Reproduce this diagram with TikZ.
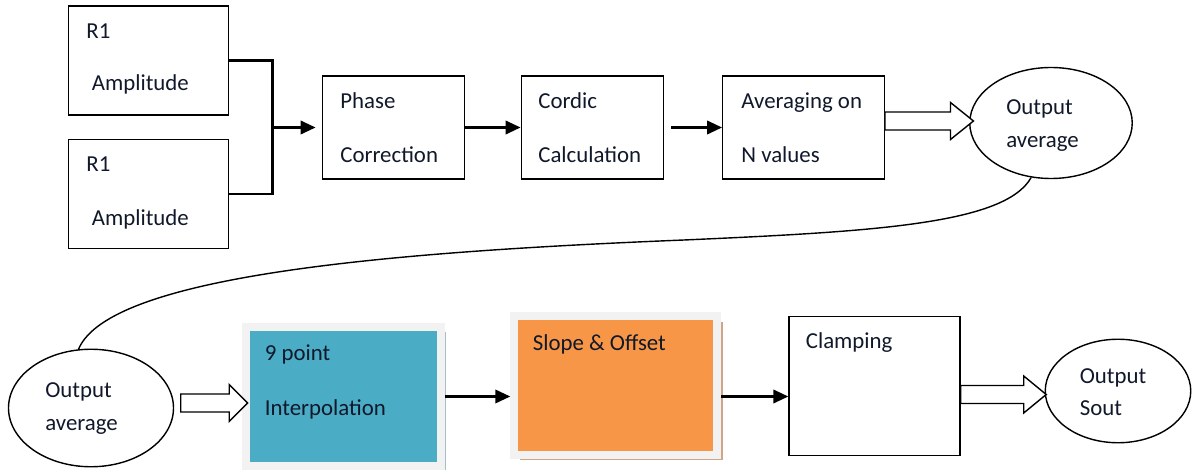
\documentclass[tikz,border=0pt]{standalone}
\usepackage{fontspec}
\setmainfont{Carlito}
\usetikzlibrary{arrows.meta,shapes.geometric,shadows}
\definecolor{interpblue}{HTML}{4BACC6}
\definecolor{slopeorange}{HTML}{F79646}
\definecolor{framegray}{HTML}{F2F2F2}
\definecolor{slopeshade}{HTML}{D2A486}
\definecolor{interpshade}{HTML}{A9BDC6}
\definecolor{inktxt}{HTML}{10182A}
\tikzset{
  blk/.style={draw, line width=0.8pt, minimum height=2.06cm},
  colbox/.style={draw=framegray, line width=0.15cm},
  oval/.style={draw, ellipse, line width=0.8pt},
  txt/.style={anchor=west, inner sep=0pt, text height=0.7em, text depth=0.2em, text=inktxt, font=\fontsize{13}{15}\selectfont},
  arr/.style={line width=1.3pt, -{Triangle[length=3mm,width=2.7mm]}},
  hollow/.style={draw, line width=0.8pt, fill=white},
}
\begin{document}
\begin{tikzpicture}
\useasboundingbox (0,0) rectangle (23.84,9.38);
\pgfmathsetmacro{\hs}{0.18}
\pgfmathsetmacro{\hh}{0.19}
% top row
\node[blk, minimum width=3.21cm, minimum height=2.18cm] (r1a) at (2.97,8.17) {};
\node[blk, minimum width=3.21cm, minimum height=2.17cm] (r1b) at (2.97,5.50) {};
\node[blk, minimum width=2.83cm] (phase) at (7.87,6.83) {};
\node[blk, minimum width=2.85cm] (cordic) at (11.85,6.83) {};
\node[blk, minimum width=3.23cm] (avg) at (16.07,6.83) {};
\node[oval, minimum width=3.25cm, minimum height=2.22cm] (oavg) at (21.02,6.92) {};
\node[txt] (r1at) at (1.72,8.70) {R1};
\node[txt] (r1aa) at (1.83,7.65) {Amplitude};
\node[txt] (r1bt) at (1.72,6.04) {R1};
\node[txt] (r1ba) at (1.83,4.95) {Amplitude};
\node[txt] (phaset) at (6.80,7.30) {Phase};
\node[txt] (phasec) at (6.80,6.21) {Correction};
\node[txt] (cordict) at (10.76,7.30) {Cordic};
\node[txt] (cordicc) at (10.76,6.21) {Calculation};
\node[txt] (avgt) at (14.82,7.30) {Averaging on};
\node[txt] (avgn) at (14.82,6.21) {N values};
\node[txt] (oavgt) at (20.12,7.18) {Output};
\node[txt] (oavga) at (20.12,6.52) {average};
% bottom row
\node[oval, minimum width=3.30cm, minimum height=2.35cm] (oavgb) at (1.82,1.22) {};
\node[colbox, fill=interpblue, minimum width=3.90cm, minimum height=2.78cm,
  drop shadow={shadow xshift=0.1cm, shadow yshift=-0.1cm, fill=interpshade, fill opacity=1}] (interp) at (6.87,1.45) {};
\node[colbox, fill=slopeorange, minimum width=4.06cm, minimum height=2.77cm,
  drop shadow={shadow xshift=0.11cm, shadow yshift=-0.11cm, fill=slopeshade, fill opacity=1}] (slope) at (12.31,1.67) {};
\node[blk, minimum width=3.42cm, minimum height=2.77cm] (clamp) at (17.49,1.66) {};
\node[oval, minimum width=2.91cm, minimum height=2.07cm] (sout) at (22.36,1.56) {};
\node[txt] (oavgbt) at (0.90,1.52) {Output};
\node[txt] (oavgba) at (0.90,0.85) {average};
\node[txt] (interpt) at (5.29,2.25) {9 point};
\node[txt] (interpi) at (5.29,1.15) {Interpolation};
\node[txt] (slopet) at (10.65,2.45) {Slope \& Offset};
\node[txt] (clampt) at (16.11,2.49) {Clamping};
\node[txt] (soutt) at (21.59,1.80) {Output};
\node[txt] (souts) at (21.59,1.15) {Sout};
% connectors
\coordinate (jn) at (5.45,6.83);
\draw[line width=1.3pt] (r1a.east) -| (jn) |- (r1b.east);
\draw[arr, shorten >=0.13cm] (jn) -- (phase.west);
\draw[arr] (phase.east) -- (cordic.west);
\draw[arr, shorten <=0.13cm] (cordic.east) -- (avg.west);
\draw[hollow] ([yshift=1.3mm]avg.east) ++(0,\hs) -- ++(1.31,0) -- ++(0,\hh) -- ++(0.46,-\hs-\hh) -- ++(-0.46,-\hs-\hh) -- ++(0,\hh) -- ++(-1.31,0) -- cycle;
\draw[line width=0.8pt] (oavg.250) .. controls (20.1,4.9) and (17.5,4.75) .. (13.68,4.58) .. controls (8,4.35) and (2.2,3.9) .. (oavgb.102);
\draw[hollow] ([xshift=1.3mm,yshift=1mm]oavgb.east) ++(0,\hs) -- ++(0.97,0) -- ++(0,\hh) -- ++(0.37,-\hs-\hh) -- ++(-0.37,-\hs-\hh) -- ++(0,\hh) -- ++(-0.97,0) -- cycle;
\draw[arr] (interp.east) -- (interp.east -| slope.west);
\draw[arr] (slope.east |- interp.east) -- (clamp.west |- interp.east);
\draw[hollow] ([yshift=-1.7mm]clamp.east) ++(0,\hs) -- ++(1.26,0) -- ++(0,\hh) -- ++(0.45,-\hs-\hh) -- ++(-0.45,-\hs-\hh) -- ++(0,\hh) -- ++(-1.26,0) -- cycle;
\end{tikzpicture}
\end{document}
